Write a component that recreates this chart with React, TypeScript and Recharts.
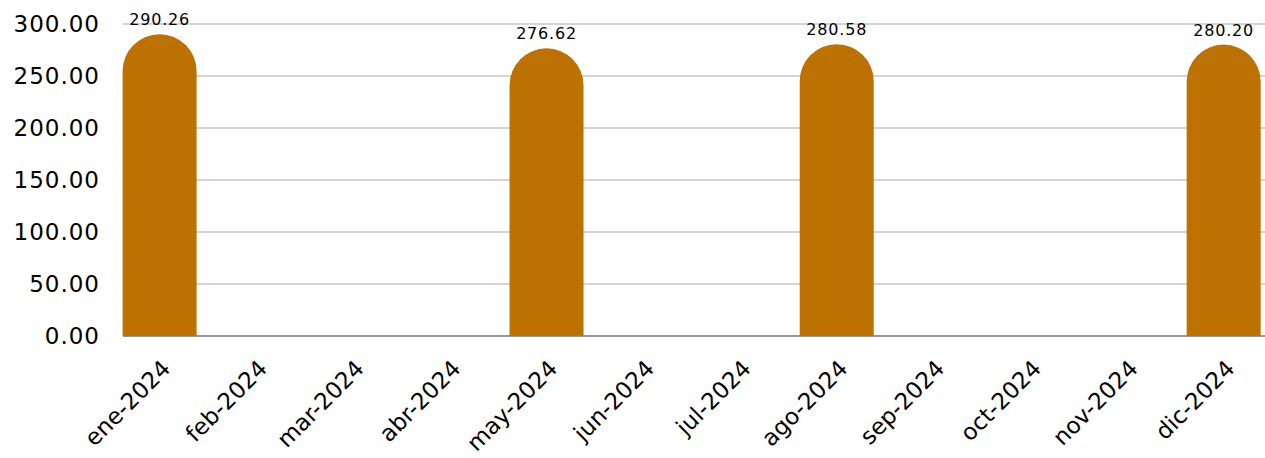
import React from "react";
import { Bar, BarChart, CartesianGrid, LabelList, XAxis, YAxis } from "recharts";

const meses = [
  "ene-2024", "feb-2024", "mar-2024", "abr-2024", "may-2024", "jun-2024",
  "jul-2024", "ago-2024", "sep-2024", "oct-2024", "nov-2024", "dic-2024",
];
const valores: (number | null)[] = [
  290.26, null, null, null, 276.62, null, null, 280.58, null, null, null, 280.2,
];
const yTicks = [0, 50, 100, 150, 200, 250, 300];

const data = meses.map((mes, i) => ({ mes, valor: valores[i] }));

const FONT = "'DejaVu Sans', sans-serif";

function MonthTick({ x, y, payload }: any) {
  return (
    <text
      x={x + 12}
      y={y + 26}
      transform={`rotate(-45 ${x + 12} ${y + 26})`}
      textAnchor="end"
      fontSize={23}
      fontFamily={FONT}
      fill="#000"
    >
      {payload.value}
    </text>
  );
}

export default function App() {
  return (
    <div style={{ position: "absolute", left: 0, top: 0, background: "#fff" }}>
      <BarChart
        width={1265}
        height={458}
        data={data}
        margin={{ top: 24, right: 0, bottom: 0, left: 0 }}
      >
        <CartesianGrid vertical={false} stroke="#c6c6c6" strokeWidth={1.6} />
        <XAxis
          dataKey="mes"
          interval={0}
          height={122}
          tickLine={false}
          axisLine={{ stroke: "#808080", strokeWidth: 1.6 }}
          padding={{ left: -11.4, right: -7.4 }}
          tick={<MonthTick />}
        />
        <YAxis
          domain={[0, 300]}
          ticks={yTicks}
          width={123}
          tickLine={false}
          axisLine={false}
          tickSize={0}
          tickMargin={23}
          tickFormatter={(v: number) => v.toFixed(2)}
          tick={{ fontSize: 23, fontFamily: FONT, fill: "#000", letterSpacing: 1 }}
        />
        <Bar
          dataKey="valor"
          fill="#BD7100"
          barSize={74}
          radius={[37, 37, 0, 0]}
          isAnimationActive={false}
        >
          <LabelList
            dataKey="valor"
            position="top"
            offset={9}
            formatter={(v: any) => (v == null ? "" : Number(v).toFixed(2))}
            style={{ fontSize: 16, fontFamily: FONT, fill: "#000", letterSpacing: 0.8 }}
          />
        </Bar>
      </BarChart>
    </div>
  );
}
